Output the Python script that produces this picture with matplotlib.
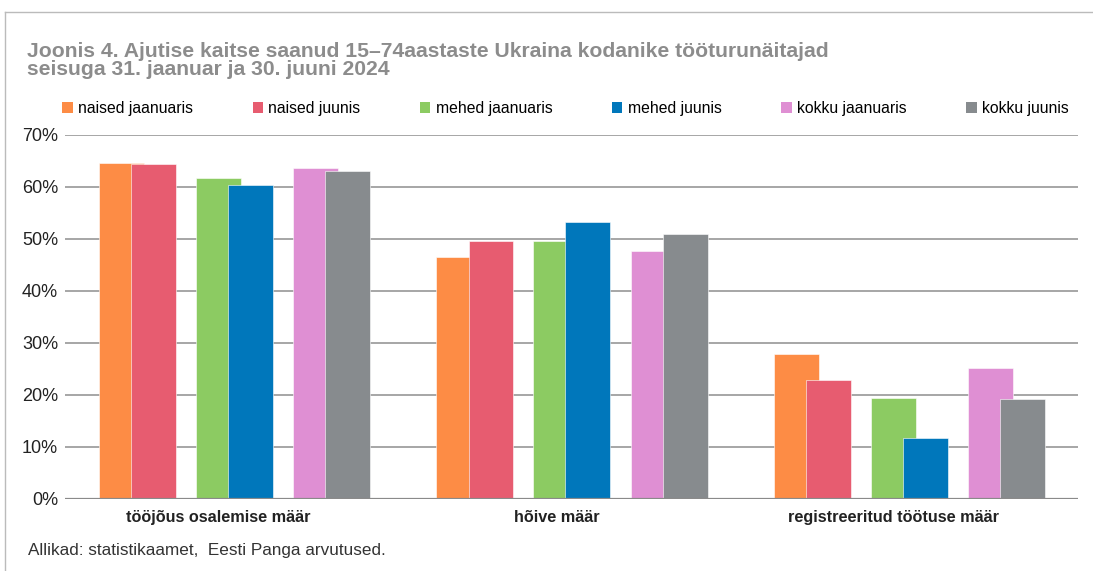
import matplotlib
matplotlib.use("Agg")
import matplotlib.pyplot as plt
import numpy as np
from matplotlib.patches import Patch
from matplotlib.lines import Line2D

plt.rcParams['font.family'] = ['Liberation Sans', 'DejaVu Sans']

categories = ['tööjõus osalemise määr', 'hõive määr', 'registreeritud töötuse määr']
series = ['naised jaanuaris', 'naised juunis', 'mehed jaanuaris',
          'mehed juunis', 'kokku jaanuaris', 'kokku juunis']
naised_jaan = [64.7, 46.5, 27.9]
naised_juun = [64.5, 49.6, 22.9]
mehed_jaan = [61.7, 49.6, 19.4]
mehed_juun = [60.3, 53.3, 11.7]
kokku_jaan = [63.7, 47.6, 25.1]
kokku_juun = [63.1, 50.9, 19.2]
values = [naised_jaan, naised_juun, mehed_jaan, mehed_juun, kokku_jaan, kokku_juun]
colors = ['#FD8C45', '#E75C70', '#8CCB62', '#0077BB', '#DF8FD3', '#878B8E']
yticks = [0, 10, 20, 30, 40, 50, 60, 70]

fig = plt.figure(figsize=(10.93, 5.71), dpi=100)
ax = fig.add_axes([0.0595, 0.1261, 0.9268, 0.6375])

x = np.arange(len(categories))
width = 0.133
# left edges relative to category centre: pairs overlap a bit
lefts = [-0.400, -0.305, -0.113, -0.018, 0.175, 0.270]
for i in range(len(series)):
    ax.bar(x + lefts[i], np.array(values[i]) / 100, width=width, align='edge',
           color=colors[i], edgecolor='#ffffff', linewidth=0.4, zorder=3)

ax.set_xlim(-0.5, 2.5)
ax.set_ylim(0, 0.70)
ax.set_yticks([v / 100 for v in yticks])
ax.set_yticklabels([str(v) + '%' for v in yticks], fontsize=13, color='#222222')
# category labels sit a little left of the group centre in the original
ax.set_xticks(x - 0.045)
ax.set_xticklabels(categories, fontsize=11.7, fontweight='bold', color='#222222')
ax.tick_params(axis='both', length=0)
ax.tick_params(axis='y', pad=5)
ax.tick_params(axis='x', pad=8)
ax.yaxis.grid(True, color='#8e8e8e', linewidth=1.1, zorder=0)
ax.set_axisbelow(True)
for s in ax.spines.values():
    s.set_visible(False)
ax.axhline(0, color='#8a8a8a', linewidth=1.6, zorder=4)

handles = [Patch(facecolor=c, edgecolor='none') for c in colors]
fig.legend(handles, series, loc='center left', bbox_to_anchor=(0.057, 0.81),
           ncol=6, frameon=False, fontsize=11.3, handlelength=0.65, handleheight=0.7,
           handletextpad=0.35, columnspacing=3.8, borderaxespad=0, borderpad=0)

fig.text(0.025, 0.926, 'Joonis 4. Ajutise kaitse saanud 15\u201374aastaste Ukraina kodanike tööturunäitajad\nseisuga 31. jaanuar ja 30. juuni 2024',
         fontsize=15.2, fontweight='bold', color='#8c8c8c', va='top', ha='left', linespacing=0.92)
fig.text(0.026, 0.022, 'Allikad: statistikaamet,  Eesti Panga arvutused.', fontsize=12.3,
         color='#333333', va='bottom', ha='left')

# frame lines at the top and left
fig.add_artist(Line2D([0.0046, 1.0], [0.979, 0.979], color='#bbbbbb', linewidth=1))
fig.add_artist(Line2D([0.0046, 0.0046], [0.979, 0.0], color='#bbbbbb', linewidth=1))

fig.savefig('out.png', dpi=100)
